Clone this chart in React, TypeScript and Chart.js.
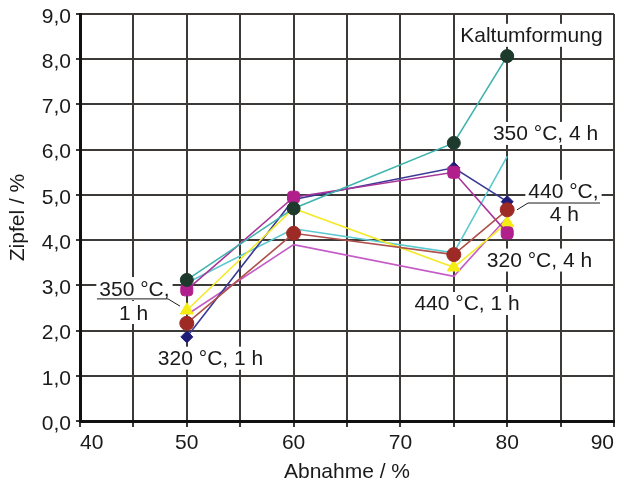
import React, { useEffect, useRef } from "react";
import { Chart, registerables } from "chart.js";

Chart.register(...registerables);

// ---- data ----
const abnahme = [50, 60, 75, 80];
const kaltumformung = [3.12, 4.7, 6.15, 8.07];
const s350_4h = [3.05, 4.25, 3.72, 5.85];
const s320_1h = [1.86, 4.9, 5.6, 4.85];
const s320_4h = [2.9, 4.95, 5.5, 4.16];
const s350_1h = [2.45, 4.7, 3.4, 4.38];
const s440_4h = [2.16, 4.15, 3.68, 4.67];
const s440_1h = [2.35, 3.9, 3.2, 4.5];

const xTicksStep = 5;
const yTicksStep = 1;

const FONT = "'Liberation Sans', Arial, sans-serif";
const FS = 21;

// annotation texts (data coordinates)
const annotations = [
  { text: "Kaltumformung", x: 82.27, y: 8.54 },
  { text: "350 °C, 4 h", x: 83.59, y: 6.37 },
  { text: "440 °C,", x: 85.27, y: 5.09 },
  { text: "4 h", x: 85.36, y: 4.58 },
  { text: "320 °C, 4 h", x: 83.02, y: 3.57 },
  { text: "440 °C, 1 h", x: 76.24, y: 2.61 },
  { text: "350 °C,", x: 45.1, y: 2.94 },
  { text: "1 h", x: 45.01, y: 2.41 },
  { text: "320 °C, 1 h", x: 52.22, y: 1.4 },
];
const leaders = [
  [
    [80.92, 4.67],
    [81.95, 4.82],
    [88.69, 4.82],
  ],
  [
    [41.59, 2.7],
    [48.24, 2.7],
    [49.36, 2.54],
  ],
];

const pts = (arr: number[]) => arr.map((v, i) => ({ x: abnahme[i], y: v }));

const annoPlugin = {
  id: "anno",
  beforeDatasetsDraw(chart: any) {
    const { ctx, scales } = chart;
    const xs = scales.x;
    const ys = scales.y;
    ctx.save();
    ctx.font = `${FS}px ${FONT}`;
    ctx.textAlign = "center";
    ctx.textBaseline = "alphabetic";
    for (const a of annotations) {
      const px = xs.getPixelForValue(a.x);
      const py = ys.getPixelForValue(a.y);
      const w = ctx.measureText(a.text).width;
      ctx.fillStyle = "#ffffff";
      ctx.fillRect(px - w / 2 - 3, py - 11, w + 6, 23);
      ctx.fillStyle = "#1a1a1a";
      ctx.fillText(a.text, px, py + 7.5);
    }
    ctx.strokeStyle = "#1a1a1a";
    ctx.lineWidth = 1;
    for (const l of leaders) {
      ctx.beginPath();
      l.forEach((p, i) => {
        const px = xs.getPixelForValue(p[0]);
        const py = ys.getPixelForValue(p[1]);
        if (i === 0) ctx.moveTo(px, py);
        else ctx.lineTo(px, py);
      });
      ctx.stroke();
    }
    ctx.restore();
  },
  afterDraw(chart: any) {
    const { ctx, chartArea } = chart;
    ctx.save();
    ctx.font = `${FS}px ${FONT}`;
    ctx.fillStyle = "#1a1a1a";
    ctx.textAlign = "center";
    ctx.textBaseline = "middle";
    ctx.fillText("Abnahme / %", (chartArea.left + chartArea.right) / 2, 472);
    ctx.translate(18, (chartArea.top + chartArea.bottom) / 2);
    ctx.rotate(-Math.PI / 2);
    ctx.fillText("Zipfel / %", 0, 0);
    ctx.restore();
  },
};

export default function App() {
  const ref = useRef<HTMLCanvasElement | null>(null);
  useEffect(() => {
    if (!ref.current) return;
    const line = (
      label: string,
      data: number[],
      color: string,
      pColor: string,
      style: any,
      radius: number,
      order: number
    ) => ({
      label,
      data: pts(data),
      borderColor: color,
      backgroundColor: pColor,
      pointBackgroundColor: pColor,
      pointBorderColor: pColor,
      pointBorderWidth: 1,
      pointStyle: style,
      pointRadius: radius,
      borderWidth: 1.6,
      tension: 0,
      order,
    });
    const chart = new Chart(ref.current, {
      type: "line",
      data: {
        datasets: [
          line("Kaltumformung", kaltumformung, "#3fb3ae", "#1d3a2c", "circle", 6.5, 0),
          line("440 °C, 4 h", s440_4h, "#b0504c", "#9e2a26", "circle", 7, 1),
          line("320 °C, 4 h", s320_4h, "#a8369a", "#b01f8c", "rectRounded", 7, 2),
          line("350 °C, 1 h", s350_1h, "#f3ea2a", "#f5ec14", "triangle", 7.5, 3),
          line("320 °C, 1 h", s320_1h, "#3a3a96", "#1f1c78", "rectRot", 6, 4),
          line("350 °C, 4 h", s350_4h, "#5cc9cf", "#5cc9cf", "circle", 0, 5),
          line("440 °C, 1 h", s440_1h, "#c45bc6", "#c45bc6", "circle", 0, 6),
        ],
      },
      options: {
        animation: false,
        responsive: false,
        maintainAspectRatio: false,
        layout: { autoPadding: false, padding: { top: 14, right: 3, left: 0, bottom: 0 } },
        plugins: { legend: { display: false }, tooltip: { enabled: false } },
        scales: {
          x: {
            type: "linear",
            min: 40,
            max: 90,
            afterFit: (s: any) => {
              s.height = 65;
              s.paddingLeft = 0;
              s.paddingRight = 0;
            },
            ticks: {
              stepSize: xTicksStep,
              autoSkip: false,
              maxRotation: 0,
              align: "inner",
              padding: 4,
              color: "#1a1a1a",
              font: { family: FONT, size: FS },
              callback: (v: any) => (Number(v) % 10 === 0 ? String(v) : ""),
            },
            grid: { color: "#3d3936", lineWidth: 2, tickLength: 6, drawTicks: true },
            border: { color: "#111111", width: 3 },
          },
          y: {
            type: "linear",
            min: 0,
            max: 9,
            afterFit: (s: any) => {
              s.width = 80;
              s.paddingTop = 0;
              s.paddingBottom = 0;
            },
            ticks: {
              stepSize: yTicksStep,
              padding: 5,
              labelOffset: 3,
              color: "#1a1a1a",
              font: { family: FONT, size: FS },
              callback: (v: any) => Number(v).toFixed(1).replace(".", ","),
            },
            grid: { color: "#3d3936", lineWidth: 2, tickLength: 4, drawTicks: true },
            border: { color: "#111111", width: 3 },
          },
        },
      },
      plugins: [annoPlugin],
    });
    return () => chart.destroy();
  }, []);
  return (
    <div style={{ position: "fixed", left: 0, top: 0, width: 617, height: 486, background: "#fff" }}>
      <canvas ref={ref} width={617} height={486} />
    </div>
  );
}
